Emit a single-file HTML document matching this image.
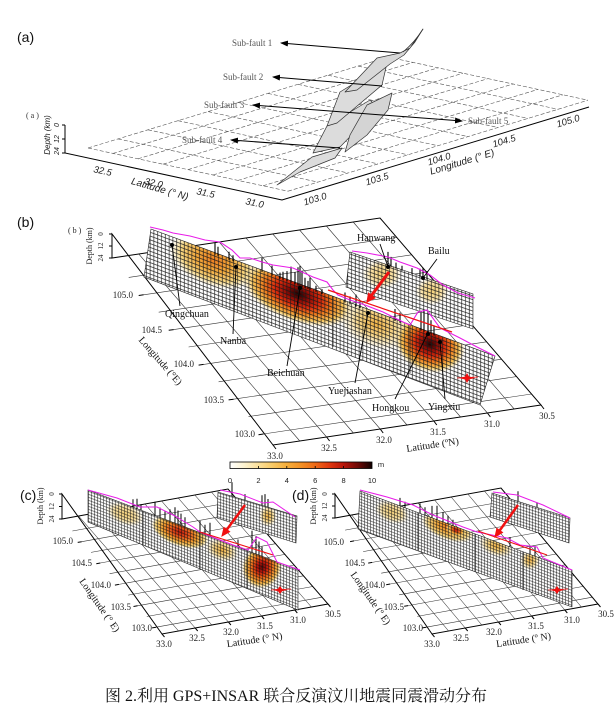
<!DOCTYPE html>
<html><head><meta charset="utf-8"><style>
html,body{margin:0;padding:0;background:#fff;}
svg{display:block;}
.sf{font-family:"Liberation Serif",serif;font-size:9px;fill:#555;}
.ai{font-family:"Liberation Sans",sans-serif;font-style:italic;font-size:9.5px;fill:#222;}
.tn{font-family:"Liberation Serif",serif;font-size:9px;fill:#222;}
.tl{font-family:"Liberation Serif",serif;font-size:10px;fill:#111;}
.pl{font-family:"Liberation Sans",sans-serif;font-size:14px;fill:#111;}
.cap{font-family:"Liberation Serif","Noto Serif CJK SC","Noto Sans CJK SC",serif;font-size:16px;fill:#111;}
</style></head><body>
<svg width="616" height="720" viewBox="0 0 616 720" xmlns="http://www.w3.org/2000/svg">
<defs>
<marker id="ah" markerWidth="8" markerHeight="6" refX="7" refY="3" orient="auto" markerUnits="userSpaceOnUse"><path d="M0,0 L8,3 L0,6 z" fill="#000"/></marker>
<pattern id="mb" patternUnits="userSpaceOnUse" width="3.8" height="3.8" patternTransform="skewY(20.3)"><path d="M0 1.9H3.8M1.9 0V3.8" stroke="#1a1a1a" stroke-width="0.65" fill="none"/></pattern>
<pattern id="mbu" patternUnits="userSpaceOnUse" width="3.8" height="3.8" patternTransform="skewY(18.8)"><path d="M0 1.9H3.8M1.9 0V3.8" stroke="#1a1a1a" stroke-width="0.65" fill="none"/></pattern>
<pattern id="mc" patternUnits="userSpaceOnUse" width="3" height="3" patternTransform="skewY(20.9)"><path d="M0 1.5H3M1.5 0V3" stroke="#111" stroke-width="0.55" fill="none"/></pattern>
<pattern id="mcu" patternUnits="userSpaceOnUse" width="3" height="3" patternTransform="skewY(16.7)"><path d="M0 1.5H3M1.5 0V3" stroke="#111" stroke-width="0.55" fill="none"/></pattern>
<pattern id="md" patternUnits="userSpaceOnUse" width="3" height="3" patternTransform="skewY(20.5)"><path d="M0 1.5H3M1.5 0V3" stroke="#111" stroke-width="0.55" fill="none"/></pattern>
<pattern id="mdu" patternUnits="userSpaceOnUse" width="3" height="3" patternTransform="skewY(17.7)"><path d="M0 1.5H3M1.5 0V3" stroke="#111" stroke-width="0.55" fill="none"/></pattern>
<radialGradient id="gDark"><stop offset="0" stop-color="#1a0000"/><stop offset="0.2" stop-color="#8b0a05"/><stop offset="0.42" stop-color="#dc2a0c"/><stop offset="0.62" stop-color="#f07d1d"/><stop offset="0.82" stop-color="#f8c65a"/><stop offset="1" stop-color="#fbe6a4" stop-opacity="0"/></radialGradient>
<radialGradient id="gRed"><stop offset="0" stop-color="#c01a0c"/><stop offset="0.3" stop-color="#e8501a"/><stop offset="0.6" stop-color="#f4a030"/><stop offset="0.85" stop-color="#f9d981"/><stop offset="1" stop-color="#fbe6a4" stop-opacity="0"/></radialGradient>
<radialGradient id="gDeep"><stop offset="0" stop-color="#5a0604"/><stop offset="0.25" stop-color="#c8180b"/><stop offset="0.5" stop-color="#ee6a18"/><stop offset="0.78" stop-color="#f7c050"/><stop offset="1" stop-color="#fbe6a4" stop-opacity="0"/></radialGradient>
<radialGradient id="gOr"><stop offset="0" stop-color="#ee7d20"/><stop offset="0.4" stop-color="#f4aa3c"/><stop offset="0.75" stop-color="#f8d884"/><stop offset="1" stop-color="#fbe6a4" stop-opacity="0"/></radialGradient>
<radialGradient id="gYel"><stop offset="0" stop-color="#f4b445"/><stop offset="0.5" stop-color="#f8d88c"/><stop offset="1" stop-color="#fbe9b0" stop-opacity="0"/></radialGradient>
<radialGradient id="gPale"><stop offset="0" stop-color="#f7d27a"/><stop offset="0.6" stop-color="#fae3a8"/><stop offset="1" stop-color="#fcefc8" stop-opacity="0"/></radialGradient>
<linearGradient id="cbar" x1="0" x2="1" y1="0" y2="0"><stop offset="0" stop-color="#ffffff"/><stop offset="0.1" stop-color="#fdf3d0"/><stop offset="0.2" stop-color="#fbe09a"/><stop offset="0.3" stop-color="#f8c965"/><stop offset="0.4" stop-color="#f6ad3a"/><stop offset="0.5" stop-color="#f39024"/><stop offset="0.6" stop-color="#ee6a17"/><stop offset="0.7" stop-color="#e0380f"/><stop offset="0.8" stop-color="#b8150a"/><stop offset="0.9" stop-color="#6e0906"/><stop offset="1" stop-color="#100000"/></linearGradient>
<clipPath id="cbm"><polygon points="151,229 495,356 480,405 144,277"/></clipPath>
<clipPath id="cbu"><polygon points="350,252 473,294 473,329 346,287"/></clipPath>
<clipPath id="ccm"><polygon points="88,490 298,570 298,610 88,522"/></clipPath>
<clipPath id="ccu"><polygon points="218,492 297,516 296,543 217,518"/></clipPath>
<clipPath id="cdm"><polygon points="360,491 572,570 572,607 358,529"/></clipPath>
<clipPath id="cdu"><polygon points="492,493 570,518 569,543 490,517"/></clipPath>
</defs>
<rect width="616" height="720" fill="#fff"/>

<!-- ================= PANEL A ================= -->
<text class="pl" x="17" y="42">(a)</text>
<text x="26" y="118" style="font-family:'Liberation Serif',serif;font-size:8px;fill:#333">( a )</text>
<g stroke="#555" stroke-width="0.6" stroke-dasharray="4,2" fill="none">
<path d="M88 148L388 57M113 153.4L413 62.4M138 158.8L438 67.8M163 164.2L463 73.2M188 169.6L488 78.6M213 175L513 84M238 180.4L538 89.4M263 185.8L563 94.8M288 191.2L588 100.2"/>
<path d="M88 148L288 191.2M118 138.9L318 182.1M148 129.8L348 173M178 120.7L378 163.9M208 111.6L408 154.8M238 102.5L438 145.7M268 93.4L468 136.6M298 84.3L498 127.5M328 75.2L528 118.4M358 66.1L558 109.3M388 57L588 100.2"/>
</g>
<g stroke="#000" stroke-width="1" fill="none">
<path d="M65 125V153L282 200L589 107"/>
<path d="M65 125h-3M65 139h-3M65 153h-3"/>
</g>
<g class="ai" font-size="8">
<text transform="translate(50,135) rotate(-90)" text-anchor="middle" font-size="8">Depth (km)</text>
<text transform="translate(59,125) rotate(-90)" text-anchor="middle" font-size="7">0</text>
<text transform="translate(59,139) rotate(-90)" text-anchor="middle" font-size="7">12</text>
<text transform="translate(59,151) rotate(-90)" text-anchor="middle" font-size="7">24</text>
</g>
<g class="ai" text-anchor="middle">
<text transform="translate(102,174) rotate(12)">32.5</text>
<text transform="translate(153,186) rotate(12)">32.0</text>
<text transform="translate(205,196) rotate(12)">31.5</text>
<text transform="translate(254,206) rotate(12)">31.0</text>
<text transform="translate(159,192) rotate(16)" font-size="10">Latitude (° N)</text>
<text transform="translate(316,202) rotate(-17)">103.0</text>
<text transform="translate(378,182) rotate(-17)">103.5</text>
<text transform="translate(440,162) rotate(-17)">104.0</text>
<text transform="translate(505,144) rotate(-17)">104.5</text>
<text transform="translate(569,124) rotate(-17)">105.0</text>
<text transform="translate(463,165) rotate(-17)" font-size="10">Longitude (° E)</text>
</g>
<g fill="#dcdcdc" stroke="#333" stroke-width="0.7" stroke-linejoin="round">
<polygon points="277,185 312,157 342,148 335,158 300,172"/>
<polygon points="327,126 370,100 378,108 340,147 313,153"/>
<polygon points="367,105 392,93 388,110 367,135 345,152 350,135" fill="#d4d4d4"/>
<polygon points="340,92 387,63 382,85 337,123 327,126"/>
<polygon points="423,29 410,48 400,53 377,58 345,92 357,90 390,64 404,55 415,42" fill="#d8d8d8"/>
</g>
<path d="M423 29Q415 42 403 52" stroke="#333" stroke-width="0.8" fill="none"/>
<g stroke="#000" stroke-width="1" fill="none" marker-end="url(#ah)">
<line x1="400" y1="53" x2="281" y2="43"/>
<line x1="382" y1="86" x2="273" y2="77"/>
<line x1="330" y1="111" x2="253" y2="105"/>
<line x1="330" y1="111" x2="462" y2="121"/>
<line x1="340" y1="148" x2="231" y2="140"/>
</g>
<text class="sf" x="232" y="46">Sub-fault 1</text>
<text class="sf" x="223" y="80">Sub-fault 2</text>
<text class="sf" x="204" y="108">Sub-fault 3</text>
<text class="sf" x="182" y="143">Sub-fault 4</text>
<text class="sf" x="468" y="124">Sub-fault 5</text>

<!-- ================= PANEL B ================= -->
<text class="pl" x="17" y="227">(b)</text>
<text x="68" y="233" style="font-family:'Liberation Serif',serif;font-size:8px;fill:#222">( b )</text>
<g stroke="#333" stroke-width="0.6" fill="none">
<path d="M128.7 277.4L396.7 237.4M143.7 294.8L411.7 254.8M158.7 312.2L426.7 272.2M173.7 329.6L441.7 289.6M188.6 347L456.6 307M203.6 364.4L471.6 324.4M218.6 381.8L486.6 341.8M233.6 399.2L501.6 359.2M248.5 416.6L516.5 376.6M263.5 434L531.5 394"/>
<path d="M138.8 254L299.8 441M165.6 250L326.6 437M192.4 246L353.4 433M219.2 242L380.2 429M246 238L407 425M272.8 234L433.8 421M299.6 230L460.6 417M326.4 226L487.4 413M353.2 222L514.2 409"/>
</g>
<g stroke="#000" stroke-width="1" fill="none">
<path d="M112 234V258L380 218L541 405L273 445Z"/>
<path d="M112 234h-3M112 246h-3M112 258h-3"/>
<path d="M143.7 294.8l-5 0.7M173.7 329.6l-5 0.7M203.6 364.4l-5 0.7M233.6 399.2l-5 0.7M263.5 434l-5 0.7"/>
<path d="M273 445l3 4M326.6 437l3 4M380.2 429l3 4M433.8 421l3 4M487.4 413l3 4M541 405l3 4"/>
</g>
<g style="font-family:'Liberation Serif',serif;fill:#222" text-anchor="middle">
<text transform="translate(92,246) rotate(-90)" font-size="8">Depth (km)</text>
<text transform="translate(103,234) rotate(-90)" font-size="7">0</text>
<text transform="translate(103,246) rotate(-90)" font-size="7">12</text>
<text transform="translate(103,258) rotate(-90)" font-size="7">24</text>
</g>
<g class="tn" text-anchor="end">
<text x="133" y="298">105.0</text>
<text x="162" y="333">104.5</text>
<text x="194" y="367">104.0</text>
<text x="224" y="403">103.5</text>
<text x="255" y="437">103.0</text>
</g>
<g class="tn" text-anchor="middle">
<text x="275" y="459">33.0</text>
<text x="329" y="451">32.5</text>
<text x="384" y="443">32.0</text>
<text x="438" y="435">31.5</text>
<text x="492" y="427">31.0</text>
<text x="547" y="419">30.5</text>
</g>
<text class="tl" font-size="11" transform="translate(158,363) rotate(49)" text-anchor="middle">Longitude (°E)</text>
<text class="tl" transform="translate(433,448) rotate(-8.5)" text-anchor="middle">Latitude (ºN)</text>

<!-- strips b -->
<polygon points="151,229 495,356 480,405 144,277" fill="#fff"/>
<polygon points="350,252 473,294 473,329 346,287" fill="#fff"/>
<g clip-path="url(#cbm)">
<ellipse cx="214" cy="260" rx="46" ry="26" fill="url(#gOr)" transform="rotate(20 214 260)"/>
<ellipse cx="298" cy="294" rx="58" ry="28" fill="url(#gDark)" transform="rotate(20 298 294)"/>
<ellipse cx="376" cy="324" rx="38" ry="24" fill="url(#gYel)" transform="rotate(20 376 324)"/>
<ellipse cx="430" cy="344" rx="36" ry="28" fill="url(#gDark)" transform="rotate(20 430 344)"/>
</g>
<g clip-path="url(#cbu)">
<ellipse cx="382" cy="274" rx="20" ry="15" fill="url(#gPale)"/>
<ellipse cx="432" cy="291" rx="17" ry="14" fill="url(#gPale)"/>
</g>
<polygon points="151,229 495,356 480,405 144,277" fill="url(#mb)" stroke="#222" stroke-width="0.6"/>
<polygon points="350,252 473,294 473,329 346,287" fill="url(#mbu)" stroke="#222" stroke-width="0.6"/>
<path d="M333 296V347M410 325V373" stroke="#222" stroke-width="0.8"/>
<!-- bars b -->
<path stroke="#000" stroke-width="1.1" fill="none" d="M215 254.6v-12M218 255.7v-9M229 259.7v-8M233 261.2v-6M262 271.9v-14M272 275.6v-10M280 278.6v-6M283 279.7v-8M287 281.1v-10M291 282.6v-16M295 284.1v-12M298 285.2v-18M300 285.9v-20M302 286.7v-16M305 287.8v-10M308 288.9v-8M310 289.6v-12M316 291.8v-6M322 294.1v-5M345 302.5v-10M350 304.4v-8M356 306.6v-12M360 308.1v-6M395 321v-12M400 322.8v-10M421 330.6v-18M424 331.7v-22M428 333.2v-20M431 334.3v-14M434 335.4v-10M388 265.9v-14M391 266.9v-10M396 268.6v-6M402 270.7v-5M412 274.1v-6M420 276.8v-8M423 277.8v-10M427 279.2v-8"/>
<polyline fill="none" stroke="#e81ce8" stroke-width="1.1" points="150,227 163,230 173,233 190,236 205,240 220,242 232,250 240,258 250,258 262,262 273,265 293,268 313,277 327,282 333,290 338,295 350,300 365,305 383,312 403,322 410,325 418,312 427,310 440,328 460,338 477,347 495,356"/>
<polyline fill="none" stroke="#e81ce8" stroke-width="1.1" points="352,251 367,253 388,257 400,262 417,268 430,275 443,285 458,293 475,298"/>
<line x1="328" y1="290" x2="452" y2="332" stroke="#f01010" stroke-width="1.2"/>
<line x1="389" y1="272" x2="371" y2="296" stroke="#f01010" stroke-width="3"/>
<polygon points="367,302 375,297.9 368.5,293.1" fill="#f01010" stroke="#f01010" stroke-width="1"/>
<path d="M459 378L465 376.5L467 373L469 376.5L475 378L469 379.5L467 383L465 379.5Z" fill="#f01010"/>
<line x1="457" y1="378" x2="478" y2="377" stroke="#f01010" stroke-width="0.8"/>
<!-- leaders -->
<g stroke="#000" stroke-width="0.9" fill="none">
<path d="M172 245L180 306M236 267L233 334M300 288L287 366M368 313L355 383M428 333L395 399M440 342L445 399M388 267L380 244M423 278L437 259"/>
</g>
<g fill="#000">
<circle cx="172" cy="245" r="2"/><circle cx="236" cy="267" r="2"/><circle cx="300" cy="288" r="2.2"/><circle cx="368" cy="313" r="2"/><circle cx="428" cy="334" r="2"/><circle cx="440" cy="342" r="2"/><circle cx="388" cy="267" r="2"/><circle cx="423" cy="278" r="2"/>
</g>
<g class="tl">
<text x="165" y="317">Qingchuan</text>
<text x="220" y="344">Nanba</text>
<text x="267" y="376">Beichuan</text>
<text x="328" y="394">Yuejiashan</text>
<text x="372" y="411">Hongkou</text>
<text x="428" y="410">Yingxiu</text>
<text x="357" y="241">Hanwang</text>
<text x="428" y="254">Bailu</text>
</g>

<!-- colorbar -->
<rect x="230" y="462" width="142" height="6.5" fill="url(#cbar)" stroke="#000" stroke-width="0.8"/>
<path d="M258.4 466v2.5M286.8 466v2.5M315.2 466v2.5M343.6 466v2.5" stroke="#000" stroke-width="0.8"/>
<g style="font-family:'Liberation Sans',sans-serif;font-size:7.5px;fill:#222" text-anchor="middle">
<text x="230" y="483">0</text><text x="258.4" y="483">2</text><text x="286.8" y="483">4</text><text x="315.2" y="483">6</text><text x="343.6" y="483">8</text><text x="372" y="483">10</text>
<text x="381" y="467">m</text>
</g>

<!-- ================= PANEL C ================= -->
<text class="pl" x="20" y="500">(c)</text>
<g stroke="#333" stroke-width="0.55" fill="none">
<path d="M72.4 531L238.4 501M81.7 541.7L247.7 511.7M91 552.4L257 522.4M100.3 563L266.3 533M109.6 573.7L275.6 543.7M118.9 584.4L284.9 554.4M128.2 595.1L294.2 565.1M137.5 605.8L303.5 575.8M146.8 616.5L312.8 586.5M156.1 627.2L322.1 597.2"/>
<path d="M78.6 516L178.6 631M95.2 513L195.2 628M111.8 510L211.8 625M128.4 507L228.4 622M145 504L245 619M161.6 501L261.6 616M178.2 498L278.2 613M194.8 495L294.8 610M211.4 492L311.4 607"/>
</g>
<g stroke="#000" stroke-width="1" fill="none">
<path d="M62 494V519L228 489L328 604L162 634Z"/>
<path d="M62 494h-3M62 506.5h-3M62 519h-3"/>
<path d="M81.7 541.7l-4 0.7M100.3 563l-4 0.7M118.9 584.4l-4 0.7M137.5 605.8l-4 0.7M156.1 627.2l-4 0.7"/>
<path d="M162 634l2.5 3M195.2 628l2.5 3M228.4 622l2.5 3M261.6 616l2.5 3M294.8 610l2.5 3M328 604l2.5 3"/>
</g>
<g style="font-family:'Liberation Serif',serif;fill:#222" text-anchor="middle">
<text transform="translate(43,506) rotate(-90)" font-size="8">Depth (km)</text>
<text transform="translate(54,494) rotate(-90)" font-size="7">0</text>
<text transform="translate(54,506.5) rotate(-90)" font-size="7">12</text>
<text transform="translate(54,519) rotate(-90)" font-size="7">24</text>
</g>
<g class="tn" text-anchor="end">
<text x="73" y="544">105.0</text>
<text x="92" y="566">104.5</text>
<text x="111" y="588">104.0</text>
<text x="131" y="610">103.5</text>
<text x="152" y="631">103.0</text>
</g>
<g class="tn" text-anchor="middle">
<text x="164" y="647">33.0</text>
<text x="197" y="641">32.5</text>
<text x="231" y="635">32.0</text>
<text x="265" y="629">31.5</text>
<text x="298" y="623">31.0</text>
<text x="333" y="617">30.5</text>
</g>
<text class="tl" transform="translate(97,607) rotate(55)" text-anchor="middle">Longitude (° E)</text>
<text class="tl" transform="translate(255,643) rotate(-8.5)" text-anchor="middle">Latitude (° N)</text>

<polygon points="88,490 298,570 298,610 88,522" fill="#fff"/>
<polygon points="218,492 297,516 296,543 217,518" fill="#fff"/>
<g clip-path="url(#ccm)">
<ellipse cx="125" cy="514" rx="20" ry="11" fill="url(#gPale)" transform="rotate(20 125 514)"/>
<ellipse cx="180" cy="532" rx="30" ry="14" fill="url(#gRed)" transform="rotate(20 180 532)"/>
<ellipse cx="222" cy="550" rx="17" ry="11" fill="url(#gYel)" transform="rotate(20 222 550)"/>
<ellipse cx="262" cy="567" rx="20" ry="22" fill="url(#gDeep)" transform="rotate(20 262 567)"/>
</g>
<g clip-path="url(#ccu)">
<ellipse cx="268" cy="516" rx="9" ry="11" fill="url(#gYel)"/>
</g>
<polygon points="88,490 298,570 298,610 88,522" fill="url(#mc)" stroke="#222" stroke-width="0.6"/>
<polygon points="218,492 297,516 296,543 217,518" fill="url(#mcu)" stroke="#222" stroke-width="0.6"/>
<path d="M143 511V545M200 533V569M247 551V589" stroke="#222" stroke-width="0.8"/>
<path stroke="#000" stroke-width="1" fill="none" d="M133 507.2v-8M137 508.8v-10M141 510.3v-6M155 515.7v-14M160 517.6v-10M165 519.5v-8M170 521.4v-12M175 523.3v-16M178 524.5v-14M181 525.6v-12M185 527.2v-10M200 532.9v-12M205 534.8v-10M210 536.7v-14M238 547.5v-8M252 552.8v-22M256 554.3v-18M259 555.5v-14M262 556.6v-10M232 496.2v-14M245 500.1v-6M262 505.2v-10M265 506.1v-12M268 507v-8"/>
<polyline fill="none" stroke="#e81ce8" stroke-width="1" points="88,490 117,498 140,507 157,507 175,516 193,527 200,532 215,538 233,545 248,550 257,537 267,542 277,562 300,570"/>
<polyline fill="none" stroke="#e81ce8" stroke-width="1" points="220,490 240,494 263,503 273,502 295,517"/>
<line x1="200" y1="532" x2="273" y2="555" stroke="#f01010" stroke-width="1.1"/>
<line x1="245" y1="505" x2="226.8" y2="529.6" stroke="#f01010" stroke-width="2.5"/>
<polygon points="222,536 229.6,531.7 224,527.5" fill="#f01010" stroke="#f01010"/>
<path d="M273 590L278 588.7L280 586L282 588.7L287 590L282 591.3L280 594L278 591.3Z" fill="#f01010"/>
<line x1="271" y1="590" x2="291" y2="589" stroke="#f01010" stroke-width="0.8"/>

<!-- ================= PANEL D ================= -->
<text class="pl" x="292" y="500">(d)</text>
<g stroke="#333" stroke-width="0.55" fill="none">
<path d="M345.1 530.1L511.1 500.1M354.1 540.9L520.1 510.9M363.1 551.6L529.1 521.6M372.2 562.4L538.2 532.4M381.2 573.2L547.2 543.2M390.2 584L556.2 554M399.2 594.8L565.2 564.8M408.2 605.6L574.2 575.6M417.3 616.4L583.3 586.4M426.3 627.2L592.3 597.2"/>
<path d="M351.6 515L448.6 631M368.2 512L465.2 628M384.8 509L481.8 625M401.4 506L498.4 622M418 503L515 619M434.6 500L531.6 616M451.2 497L548.2 613M467.8 494L564.8 610M484.4 491L581.4 607"/>
</g>
<g stroke="#000" stroke-width="1" fill="none">
<path d="M335 494V518L501 488L598 604L432 634Z"/>
<path d="M335 494h-3M335 506h-3M335 518h-3"/>
<path d="M354.1 540.9l-4 0.7M372.2 562.4l-4 0.7M390.2 584l-4 0.7M408.2 605.6l-4 0.7M426.3 627.2l-4 0.7"/>
<path d="M432 634l2.5 3M465.2 628l2.5 3M498.4 622l2.5 3M531.6 616l2.5 3M564.8 610l2.5 3M598 604l2.5 3"/>
</g>
<g style="font-family:'Liberation Serif',serif;fill:#222" text-anchor="middle">
<text transform="translate(316,506) rotate(-90)" font-size="8">Depth (km)</text>
<text transform="translate(327,494) rotate(-90)" font-size="7">0</text>
<text transform="translate(327,506) rotate(-90)" font-size="7">12</text>
<text transform="translate(327,518) rotate(-90)" font-size="7">24</text>
</g>
<g class="tn" text-anchor="end">
<text x="344" y="545">105.0</text>
<text x="365" y="566">104.5</text>
<text x="385" y="588">104.0</text>
<text x="404" y="610">103.5</text>
<text x="423" y="631">103.0</text>
</g>
<g class="tn" text-anchor="middle">
<text x="432" y="647">33.0</text>
<text x="461" y="641">32.5</text>
<text x="494" y="635">32.0</text>
<text x="536" y="629">31.5</text>
<text x="572" y="623">31.0</text>
<text x="606" y="617">30.5</text>
</g>
<text class="tl" transform="translate(368,600) rotate(55)" text-anchor="middle">Longitude (º E)</text>
<text class="tl" transform="translate(524,643) rotate(-8.5)" text-anchor="middle">Latitude (º N)</text>

<polygon points="360,491 572,570 572,607 358,529" fill="#fff"/>
<polygon points="492,493 570,518 569,543 490,517" fill="#fff"/>
<g clip-path="url(#cdm)">
<ellipse cx="392" cy="512" rx="18" ry="11" fill="url(#gPale)" transform="rotate(20 392 512)"/>
<ellipse cx="448" cy="527" rx="28" ry="13" fill="url(#gOr)" transform="rotate(20 448 527)"/>
<ellipse cx="456" cy="530" rx="10" ry="6" fill="url(#gRed)" transform="rotate(20 456 530)"/>
<ellipse cx="496" cy="546" rx="18" ry="10" fill="url(#gYel)" transform="rotate(20 496 546)"/>
<ellipse cx="530" cy="560" rx="10" ry="10" fill="url(#gYel)"/>
</g>
<polygon points="360,491 572,570 572,607 358,529" fill="url(#md)" stroke="#222" stroke-width="0.6"/>
<polygon points="492,493 570,518 569,543 490,517" fill="url(#mdu)" stroke="#222" stroke-width="0.6"/>
<path d="M418 512.6V550M475 534V572M523 552V590" stroke="#222" stroke-width="0.8"/>
<path stroke="#000" stroke-width="1" fill="none" d="M400 505.9v-8M405 507.8v-6M420 513.4v-10M425 515.2v-8M432 517.9v-12M437 519.7v-14M443 522v-10M448 523.8v-8M453 525.7v-6M510 547v-10M530 554.4v-8M535 556.3v-10M518 501.3v-10M537 507.4v-5"/>
<polyline fill="none" stroke="#e81ce8" stroke-width="1" points="360,490 387,497 413,505 433,515 463,527 477,532 507,538 520,545 537,547 543,558 572,570"/>
<polyline fill="none" stroke="#e81ce8" stroke-width="1" points="493,492 517,495 543,505 570,518"/>
<line x1="478" y1="531" x2="547" y2="555" stroke="#f01010" stroke-width="1.1"/>
<line x1="518" y1="505" x2="499.7" y2="530.5" stroke="#f01010" stroke-width="2.5"/>
<polygon points="495,537 502.5,532.5 496.9,528.5" fill="#f01010" stroke="#f01010"/>
<path d="M550 590L555 588.7L557 586L559 588.7L564 590L559 591.3L557 594L555 591.3Z" fill="#f01010"/>
<line x1="548" y1="590" x2="568" y2="589" stroke="#f01010" stroke-width="0.8"/>

<!-- caption -->
<text class="cap" x="105" y="701" textLength="382" lengthAdjust="spacingAndGlyphs">图 2.利用 GPS+INSAR 联合反演汶川地震同震滑动分布</text>
</svg>
</body></html>
